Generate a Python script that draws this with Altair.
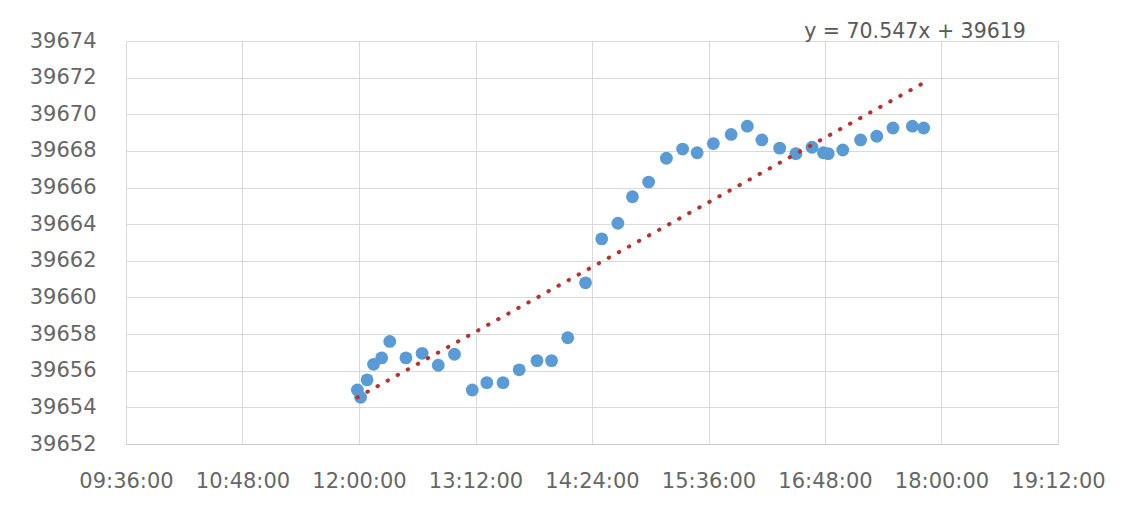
import altair as alt
import pandas as pd

times = ["11:59", "12:01", "12:05", "12:09", "12:14", "12:19", "12:29", "12:39",
         "12:49", "12:59", "13:10", "13:19", "13:29", "13:39", "13:50", "13:59",
         "14:09", "14:20", "14:30", "14:40", "14:49", "14:59", "15:10", "15:20",
         "15:29", "15:39", "15:50", "16:00", "16:09", "16:20", "16:30", "16:40",
         "16:47", "16:50", "16:59", "17:10", "17:20", "17:30", "17:42", "17:49"]
values = [39654.95, 39654.55, 39655.5, 39656.35, 39656.7, 39657.6, 39656.7, 39656.95,
          39656.3, 39656.9, 39654.95, 39655.35, 39655.35, 39656.05, 39656.55, 39656.55,
          39657.8, 39660.8, 39663.2, 39664.05, 39665.5, 39666.3, 39667.6, 39668.1,
          39667.9, 39668.4, 39668.9, 39669.35, 39668.6, 39668.15, 39667.85, 39668.2,
          39667.9, 39667.85, 39668.05, 39668.6, 39668.8, 39669.25, 39669.35, 39669.25]

x_tick_labels = ["09:36:00", "10:48:00", "12:00:00", "13:12:00", "14:24:00",
                 "15:36:00", "16:48:00", "18:00:00", "19:12:00"]
y_ticks = [39652, 39654, 39656, 39658, 39660, 39662, 39664, 39666, 39668,
           39670, 39672, 39674]
equation = ["y = 70.547x  + 39619"]


def day_fraction(s):
    parts = [int(p) for p in s.split(":")]
    while len(parts) < 3:
        parts.append(0)
    h, m, sec = parts
    return (h * 3600 + m * 60 + sec) / 86400.0


df = pd.DataFrame({"x": [day_fraction(t) for t in times], "y": values})
x_ticks = [day_fraction(t) for t in x_tick_labels]

FONT = "DejaVu Sans"
LABEL_COLOR = "#666666"
GRID = "#D9D9D9"

x_scale = alt.Scale(domain=[x_ticks[0], x_ticks[-1]], nice=False, zero=False)
y_scale = alt.Scale(domain=[y_ticks[0], y_ticks[-1]], nice=False, zero=False)

x_axis = alt.Axis(values=x_ticks, title=None,
                  labelExpr="utcFormat(round(datum.value*86400000), '%H:%M:%S')",
                  grid=True, gridColor=GRID, gridWidth=1, ticks=False,
                  domain=True, domainColor="#C8C8C8", domainWidth=1,
                  labelFont=FONT, labelFontSize=21, labelColor=LABEL_COLOR,
                  labelPadding=26, labelFlush=False, labelOverlap=False)
y_axis = alt.Axis(values=y_ticks, title=None, format="d",
                  grid=True, gridColor=GRID, gridWidth=1, ticks=False,
                  domain=False,
                  labelFont=FONT, labelFontSize=21, labelColor=LABEL_COLOR,
                  labelPadding=30, labelFlush=False, labelOverlap=False)

base = alt.Chart(df)

points = base.mark_circle(size=165, color="#5B9BD5", opacity=1).encode(
    x=alt.X("x:Q", scale=x_scale, axis=x_axis),
    y=alt.Y("y:Q", scale=y_scale, axis=y_axis),
)

trend = base.transform_regression("x", "y", method="linear").mark_line(
    color="#B83232", strokeWidth=4, strokeCap="round", strokeDash=[0.5, 11]
).encode(
    x=alt.X("x:Q", scale=x_scale, axis=x_axis),
    y=alt.Y("y:Q", scale=y_scale, axis=y_axis),
)

label = alt.Chart(pd.DataFrame({"t": equation})).mark_text(
    font=FONT, fontSize=20.5, color="#595959", align="center", baseline="alphabetic"
).encode(text="t:N", x=alt.value(789), y=alt.value(-3))

chart = alt.layer(points, trend, label).properties(
    width=932, height=403,
    autosize=alt.AutoSizeParams(type="none"),
    padding={"left": 118, "top": 33, "right": 60, "bottom": 60},
    background="white",
).configure_view(stroke=None)

chart.save("out.html", embed_options={"renderer": "svg", "actions": False})
